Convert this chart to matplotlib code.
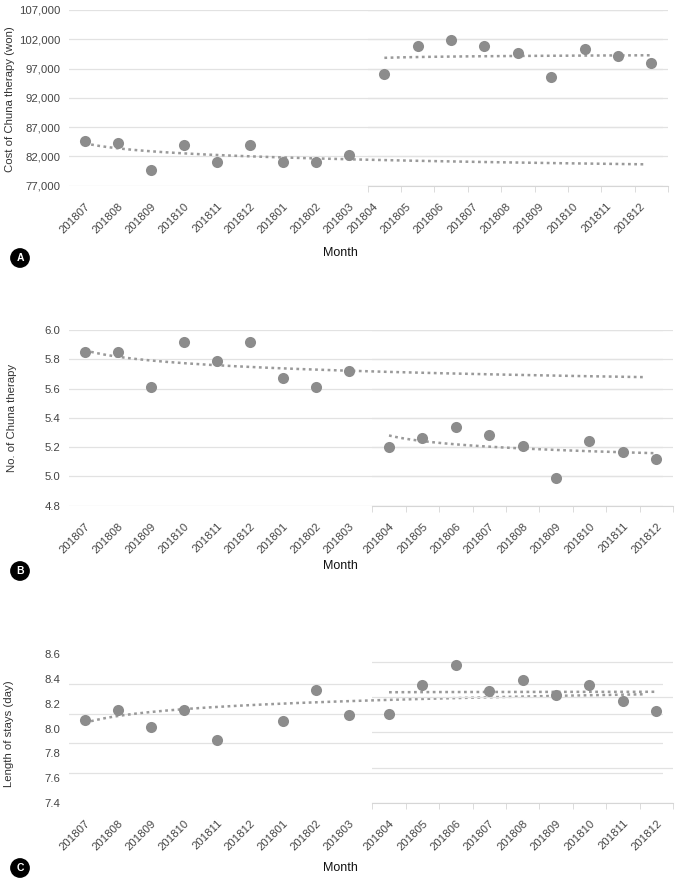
import numpy as np
import matplotlib.pyplot as plt
from matplotlib.ticker import FixedLocator, FuncFormatter
import matplotlib.transforms as mtrans

plt.rcParams['font.family'] = ['Liberation Sans', 'DejaVu Sans']

# category labels for the two periods
months_pre = ['201807', '201808', '201809', '201810', '201811', '201812', '201801', '201802', '201803']
months_post = ['201804', '201805', '201806', '201807', '201808', '201809', '201810', '201811', '201812']

# A: cost of Chuna therapy (won)
cost_pre = [84700, 84300, 79700, 84000, 81100, 84000, 81100, 81100, 82250]
cost_post = [96000, 100800, 101800, 100800, 99650, 95500, 100400, 99200, 97900]

# B: number of Chuna therapy
count_pre = [5.85, 5.85, 5.61, 5.92, 5.79, 5.92, 5.67, 5.61, 5.72]
count_post = [5.20, 5.26, 5.34, 5.28, 5.21, 4.99, 5.24, 5.17, 5.12]

# C: length of stays (day)
stay_pre = [8.07, 8.15, 8.01, 8.15, 7.91, 8.66, 8.06, 8.31, 8.11]
stay_post = [8.12, 8.35, 8.51, 8.30, 8.39, 8.27, 8.35, 8.22, 8.14]

W, H = 676, 880
DOT = '#8c8c8c'
TREND = '#9a9a9a'
GRID = '#e2e2e2'
TXT = '#444444'


def log_trend(vals, n_out):
    # excel style logarithmic trendline y = c*ln(x) + b
    x = np.arange(1, len(vals) + 1)
    c, b = np.polyfit(np.log(x), vals, 1)
    xs = np.linspace(1, n_out, 200)
    return xs - 1, c * np.log(xs) + b


def box(x0, x1, top, bottom):
    return [x0 / W, 1 - bottom / H, (x1 - x0) / W, (bottom - top) / H]


fig = plt.figure(figsize=(W / 100, H / 100), dpi=100)

panels = [
    dict(pre=cost_pre, post=cost_post, ylim=(77000, 107000),
         ticks=np.arange(77000, 107001, 5000), fmt=lambda v, p: f'{v:,.0f}',
         ylabel='Cost of Chuna therapy (won)', top=10, bottom=185.7,
         rx=(367.7, 668), lab_shift=-12, letter='A', month_y=253, circ_y=258, ylab=(10, 99)),
    dict(pre=count_pre, post=count_post, ylim=(4.8, 6.0),
         ticks=np.arange(4.8, 6.01, 0.2), fmt=lambda v, p: f'{v:.1f}',
         ylabel='No. of Chuna therapy', top=330, bottom=505.7,
         rx=(372.3, 673), lab_shift=0, letter='B', month_y=566, circ_y=571, ylab=(12, 418)),
    dict(pre=stay_pre, post=stay_post, ylim=(7.4, 8.6),
         ticks=np.arange(7.4, 8.61, 0.2), fmt=lambda v, p: f'{v:.1f}',
         ylabel='Length of stays (day)', top=654, bottom=803,
         rx=(372.3, 673), lab_shift=0, letter='C', month_y=868, circ_y=868, ylab=(9, 734)),
]

for i, p in enumerate(panels):
    # first chart: 18 categories, data only in the pre period
    ax = fig.add_axes(box(68.5, 662.5, p['top'], p['bottom']))
    n_all = len(p['pre']) + len(p['post'])
    ax.set_xlim(-0.5, n_all - 0.5)
    ax.set_ylim(*p['ylim'])
    for s in ax.spines.values():
        s.set_visible(False)
    ax.set_yticks(p['ticks'])
    ax.yaxis.set_major_formatter(FuncFormatter(p['fmt']))
    ax.tick_params(axis='y', length=0, labelsize=8.2, labelcolor=TXT, pad=6)
    if i == 2:
        ax.yaxis.set_minor_locator(FixedLocator(7.4 + 0.24 * np.arange(6)))
        ax.tick_params(axis='y', which='minor', length=0)
        ax.grid(axis='y', which='minor', color=GRID, lw=0.9)
    else:
        ax.grid(axis='y', color=GRID, lw=0.9)
    ax.set_axisbelow(True)
    ax.set_xticks(range(len(months_pre)))
    ax.set_xticklabels(months_pre, rotation=45, ha='right', rotation_mode='anchor')
    ax.tick_params(axis='x', length=0, labelsize=8.2, labelcolor=TXT, pad=11)
    tx, ty = log_trend(p['pre'], n_all)
    ax.plot(tx, ty, ls=(0, (1.1, 1.4)), color=TREND, lw=1.8, zorder=2)
    ax.scatter(range(len(p['pre'])), p['pre'], s=64, color=DOT, zorder=3, lw=0)

    # second chart overlaid on the right part
    ax2 = fig.add_axes(box(p['rx'][0], p['rx'][1], p['top'], p['bottom']))
    ax2.patch.set_visible(False)
    ax2.set_xlim(-0.5, len(p['post']) - 0.5)
    ax2.set_ylim(*p['ylim'])
    for k in ['left', 'right', 'top']:
        ax2.spines[k].set_visible(False)
    ax2.spines['bottom'].set_color('#d6d6d6')
    if i == 2:
        ax2.set_yticks(7.4 + 0.284 * np.arange(5))
    else:
        ax2.set_yticks(p['ticks'])
    ax2.tick_params(axis='y', length=0, labelleft=False)
    ax2.grid(axis='y', color=GRID, lw=0.9)
    ax2.set_axisbelow(True)
    ax2.set_xticks(range(len(months_post)))
    ax2.set_xticklabels(months_post, rotation=45, ha='right', rotation_mode='anchor')
    ax2.set_xticks(np.arange(-0.5, len(months_post)), minor=True)
    ax2.tick_params(axis='x', which='major', length=0, labelsize=8.2, labelcolor=TXT, pad=11)
    ax2.tick_params(axis='x', which='minor', length=4, color='#d6d6d6')
    if p['lab_shift']:
        off = mtrans.ScaledTranslation(p['lab_shift'] / 100, 0, fig.dpi_scale_trans)
        for lab in ax2.get_xticklabels():
            lab.set_transform(lab.get_transform() + off)
    tx2, ty2 = log_trend(p['post'], len(p['post']))
    ax2.plot(tx2, ty2, ls=(0, (1.1, 1.4)), color=TREND, lw=1.8, zorder=2)
    ax2.scatter(range(len(p['post'])), p['post'], s=64, color=DOT, zorder=3, lw=0)

    fig.text(p['ylab'][0] / W, 1 - p['ylab'][1] / H, p['ylabel'], rotation=90,
             ha='center', va='center', fontsize=8.2, color='#333333')
    fig.text(340 / W, 1 - p['month_y'] / H, 'Month', ha='center', va='center',
             fontsize=9, color='#111111')
    fig.text(20 / W, 1 - p['circ_y'] / H, p['letter'], ha='center', va='center',
             fontsize=7.5, color='white', fontweight='bold',
             bbox=dict(boxstyle='circle,pad=0.4', fc='black', ec='black'))

fig.savefig('out.png', dpi=100)
